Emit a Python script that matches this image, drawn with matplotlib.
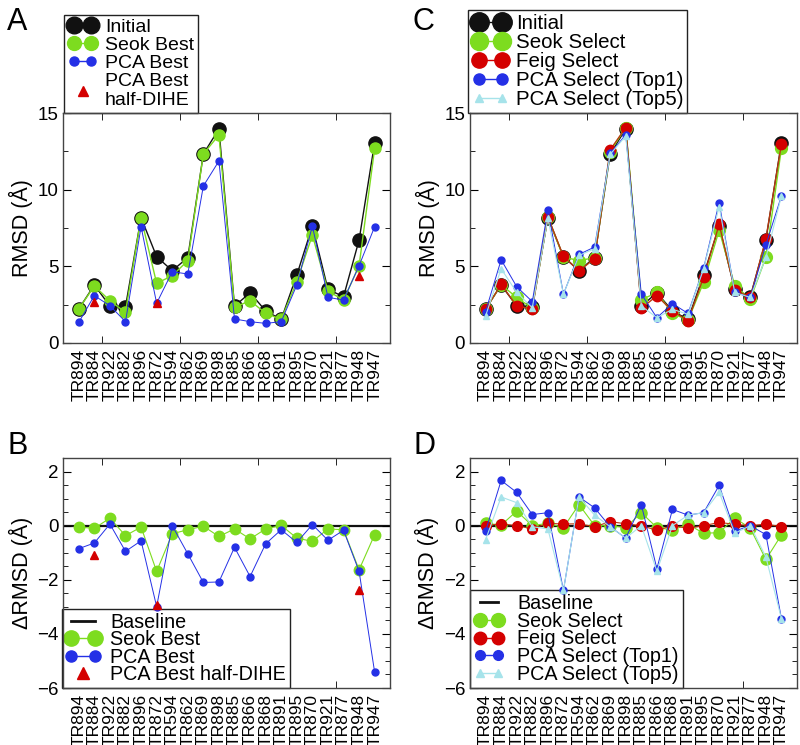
import matplotlib
matplotlib.use("Agg")
import matplotlib.pyplot as plt
from matplotlib.lines import Line2D
from matplotlib.legend_handler import HandlerLine2D
import numpy as np

plt.rcParams['font.family'] = ['Liberation Sans', 'DejaVu Sans']

targets = ['TR894', 'TR884', 'TR922', 'TR882', 'TR896', 'TR872', 'TR594', 'TR862',
           'TR869', 'TR898', 'TR885', 'TR866', 'TR868', 'TR891', 'TR895', 'TR870',
           'TR921', 'TR877', 'TR948', 'TR947']

# panel A: RMSD
initial = [2.22, 3.78, 2.41, 2.37, 8.18, 5.63, 4.72, 5.57, 12.33, 13.96,
           2.40, 3.28, 2.09, 1.54, 4.43, 7.63, 3.50, 3.02, 6.72, 13.07]
seok_best = [2.22, 3.72, 2.76, 2.00, 8.18, 3.89, 4.39, 5.37, 12.33, 13.57,
             2.33, 2.76, 1.94, 1.54, 4.00, 7.04, 3.39, 2.80, 5.04, 12.70]
pca_best = [1.35, 3.09, 2.43, 1.39, 7.59, 2.59, 4.65, 4.50, 10.24, 11.87,
            1.57, 1.39, 1.28, 1.39, 3.78, 7.63, 2.98, 2.80, 5.04, 7.59]
half_idx = [1, 5, 18]
half_dihe = [2.65, 2.63, 4.39]

# panel B: delta RMSD
d_seok_best = [-0.05, -0.10, 0.28, -0.37, -0.05, -1.69, -0.30, -0.15, -0.02, -0.40,
               -0.12, -0.49, -0.12, 0.01, -0.46, -0.58, -0.12, -0.15, -1.63, -0.33]
d_pca_best = [-0.85, -0.64, 0.06, -0.95, -0.56, -2.99, 0.00, -1.04, -2.10, -2.08,
              -0.80, -1.88, -0.67, -0.15, -0.62, 0.04, -0.54, -0.17, -1.69, -5.42]
d_half_dihe = [-1.09, -2.93, -2.37]

# panel C: RMSD of selected models
seok_sel = [2.20, 3.80, 2.97, 2.26, 8.20, 5.60, 5.38, 5.56, 12.48, 14.05,
            2.81, 3.30, 1.93, 1.49, 3.96, 7.36, 3.74, 2.86, 5.60, 12.70]
feig_sel = [2.20, 3.82, 2.42, 2.22, 8.24, 5.65, 4.70, 5.50, 12.60, 14.05,
            2.26, 3.08, 2.09, 1.45, 4.29, 7.74, 3.47, 2.97, 6.80, 13.00]
pca_top1 = [2.05, 5.43, 3.67, 2.70, 8.68, 3.19, 5.78, 6.26, 12.37, 13.58,
            3.19, 1.65, 2.57, 1.93, 4.88, 9.16, 3.30, 2.97, 6.40, 9.60]
pca_top5 = [1.76, 4.84, 3.30, 2.30, 8.13, 3.19, 5.71, 6.15, 12.30, 13.50,
            2.42, 1.65, 2.20, 1.87, 4.84, 8.90, 3.30, 2.97, 5.58, 9.60]

# panel D: delta RMSD of selected models
d_seok_sel = [0.09, 0.02, 0.54, 0.00, 0.09, -0.07, 0.78, 0.00, 0.00, -0.07,
              0.48, -0.07, -0.16, 0.05, -0.28, -0.26, 0.29, -0.10, -1.25, -0.34]
d_feig_sel = [0.00, 0.07, 0.00, -0.12, 0.09, 0.06, 0.07, -0.04, 0.15, 0.07,
              0.00, -0.17, 0.00, -0.10, 0.00, 0.12, 0.05, 0.00, 0.06, -0.04]
d_pca_top1 = [-0.20, 1.67, 1.23, 0.41, 0.48, -2.39, 1.06, 0.66, -0.04, -0.46,
              0.78, -1.59, 0.60, 0.39, 0.48, 1.49, -0.20, 0.00, -0.33, -3.44]
d_pca_top5 = [-0.52, 1.06, 0.85, -0.04, -0.12, -2.39, 1.06, 0.39, -0.04, -0.46,
              0.00, -1.68, 0.00, 0.39, 0.48, 1.24, -0.28, 0.00, -1.16, -3.44]

BLACK = '#111111'
GREEN = '#7ddc1f'
BLUE = '#2430e6'
RED = '#d40000'
FEIG_LINE = '#b83a10'
CYAN = '#a6e3ea'

x = np.arange(1, len(targets) + 1)

fig = plt.figure(figsize=(8, 7.45), dpi=100)
axA = fig.add_axes([0.079, 0.5396, 0.4088, 0.3087])
axC = fig.add_axes([0.5875, 0.5396, 0.4088, 0.3087])
axB = fig.add_axes([0.079, 0.0765, 0.4088, 0.3087])
axD = fig.add_axes([0.5875, 0.0765, 0.4088, 0.3087])


def style(ax, ylim, major, minor):
    ax.set_xlim(0, 21)
    ax.set_ylim(*ylim)
    ax.set_xticks(x)
    ax.set_xticklabels(targets, rotation=90, fontsize=12.5)
    ax.tick_params(axis='x', which='major', length=0, pad=4)
    ax.set_xticks(np.arange(2.5, 21, 2.5), minor=True)
    ax.tick_params(axis='x', which='minor', direction='in', length=5, top=True, bottom=True)
    ax.set_yticks(major)
    ax.set_yticks(minor, minor=True)
    ax.tick_params(axis='y', which='major', direction='in', length=6, labelsize=13.5,
                   left=True, right=True)
    ax.tick_params(axis='y', which='minor', direction='in', length=3.5, left=True, right=True)
    for s in ax.spines.values():
        s.set_color('#444444')
        s.set_linewidth(1)


def legend(ax, handles, labels, hl, fs=14, tp=0.3, ls=0.02, single=None, **kw):
    hmap = {handles[i]: HandlerLine2D(numpoints=1) for i in (single or [])}
    leg = ax.legend(handles, labels, numpoints=2, handlelength=hl, handletextpad=tp,
                    labelspacing=ls, borderpad=0.2, borderaxespad=0, fontsize=fs,
                    fancybox=False, framealpha=1, edgecolor='#222222',
                    handler_map=hmap, **kw)
    leg.get_frame().set_linewidth(1)
    leg.set_zorder(1.5)
    return leg


def h(color, marker, ms, lw=1.0, ls='-'):
    return Line2D([], [], color=color, marker=marker, markersize=ms, lw=lw, ls=ls,
                  markerfacecolor=color, markeredgecolor=color)


# --- A ---
axA.plot(x, initial, '-o', color=BLACK, ms=9.5, lw=1)
axA.plot(x, seok_best, '-o', color=GREEN, ms=8, lw=1)
axA.plot(x, pca_best, '-o', color=BLUE, ms=5, lw=0.7)
axA.plot(x[half_idx], half_dihe, '^', color=RED, ms=5.5, ls='none', zorder=5)
style(axA, (0, 15), [0, 5, 10, 15], np.arange(0, 15.1, 2.5))
axA.set_ylabel('RMSD (Å)', fontsize=15.5, labelpad=3)
legend(axA, [h(BLACK, 'o', 12), h(GREEN, 'o', 10), h(BLUE, 'o', 6.5), h(RED, '^', 6.5, ls='none')],
       ['Initial', 'Seok Best', 'PCA Best', 'PCA Best\nhalf-DIHE'], 1.5, tp=0.4, single=[3],
       loc='lower left', bbox_to_anchor=(0.003, 1.0))

# --- C ---
axC.plot(x, initial, '-o', color=BLACK, ms=9.5, lw=1)
axC.plot(x, seok_sel, '-o', color=GREEN, ms=8.5, lw=1)
axC.plot(x, feig_sel, '-', color=FEIG_LINE, lw=1, zorder=3)
axC.plot(x, feig_sel, 'o', color=RED, ms=7.5, zorder=3)
axC.plot(x, pca_top1, '-o', color=BLUE, ms=5, lw=0.7, zorder=4)
axC.plot(x, pca_top5, '-^', color=CYAN, ms=4.5, lw=0.8, zorder=5)
style(axC, (0, 15), [0, 5, 10, 15], np.arange(0, 15.1, 2.5))
axC.set_ylabel('RMSD (Å)', fontsize=15.5, labelpad=3)
legend(axC, [h(BLACK, 'o', 14), h(GREEN, 'o', 13), h(RED, 'o', 11), h(BLUE, 'o', 8), h(CYAN, '^', 6)],
       ['Initial', 'Seok Select', 'Feig Select', 'PCA Select (Top1)', 'PCA Select (Top5)'], 1.75,
       fs=14.8, ls=0.0, tp=0.35, loc='lower left', bbox_to_anchor=(-0.005, 1.0))

# --- B ---
axB.axhline(0, color=BLACK, lw=1.6, zorder=1)
axB.plot(x, d_seok_best, '-o', color=GREEN, ms=7.5, lw=0.8)
axB.plot(x, d_pca_best, '-o', color=BLUE, ms=5, lw=0.7)
axB.plot(x[half_idx], d_half_dihe, '^', color=RED, ms=5.5, ls='none', zorder=5)
style(axB, (-6, 2.5), [2, 0, -2, -4, -6], np.arange(-6, 2.6, 0.5))
axB.set_ylabel('ΔRMSD (Å)', fontsize=15.5, labelpad=3)
legend(axB, [h(BLACK, None, 0, lw=2), h(GREEN, 'o', 11), h(BLUE, 'o', 8), h(RED, '^', 8, ls='none')],
       ['Baseline', 'Seok Best', 'PCA Best', 'PCA Best half-DIHE'], 1.8, fs=14.2, tp=0.45,
       ls=-0.08, single=[3], loc='lower left', bbox_to_anchor=(-0.005, 0.0))

# --- D ---
axD.axhline(0, color=BLACK, lw=1.6, zorder=1)
axD.plot(x, d_seok_sel, '-o', color=GREEN, ms=8, lw=0.8)
axD.plot(x, d_feig_sel, '-', color=FEIG_LINE, lw=0.8)
axD.plot(x, d_feig_sel, 'o', color=RED, ms=7)
axD.plot(x, d_pca_top1, '-o', color=BLUE, ms=5, lw=0.7)
axD.plot(x, d_pca_top5, '-^', color=CYAN, ms=4.5, lw=0.8)
style(axD, (-6, 2.5), [2, 0, -2, -4, -6], np.arange(-6, 2.6, 0.5))
axD.set_ylabel('ΔRMSD (Å)', fontsize=15.5, labelpad=3)
legend(axD, [h(BLACK, None, 0, lw=2), h(GREEN, 'o', 10), h(RED, 'o', 9), h(BLUE, 'o', 7), h(CYAN, '^', 6)],
       ['Baseline', 'Seok Select', 'Feig Select', 'PCA Select (Top1)', 'PCA Select (Top5)'], 1.5,
       fs=14.2, tp=0.7, ls=-0.06, loc='lower left', bbox_to_anchor=(0.0, 0.0))

for lab, (px, py) in zip('ABCD', [(7, 7), (7, 431), (413, 7), (413, 431)]):
    fig.text(px / 800, 1 - py / 745, lab, fontsize=22, va='top', ha='left')

fig.savefig('out.png', dpi=100)
